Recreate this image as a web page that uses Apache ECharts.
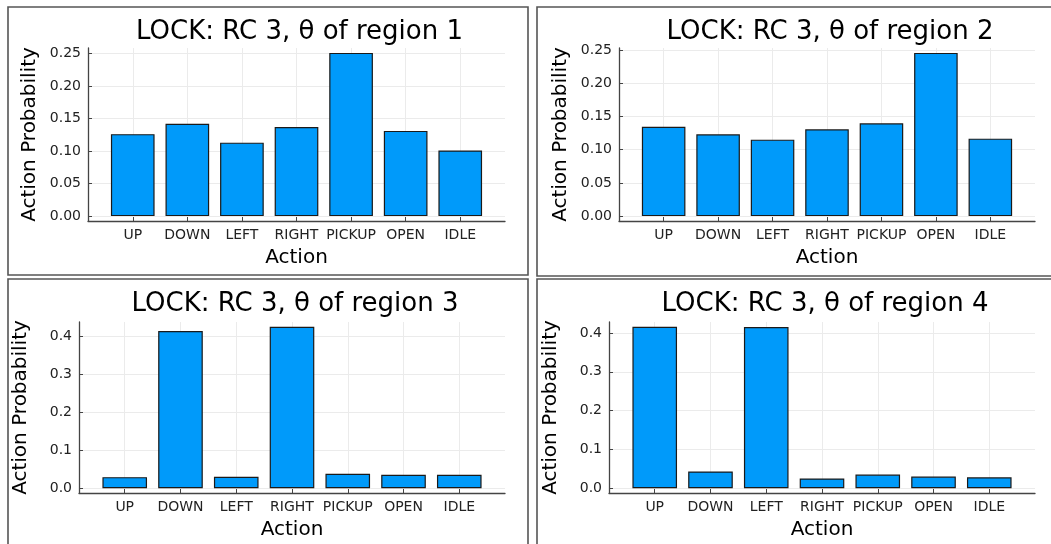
<!DOCTYPE html>
<html>
<head>
<meta charset="utf-8">
<script src="https://cdn.jsdelivr.net/npm/echarts@6/dist/echarts.min.js"></script>
<style>
  html, body { margin: 0; padding: 0; background: #ffffff; }
  #chart { width: 1051px; height: 544px; }
</style>
</head>
<body>
<div id="chart"></div>
<script>
// Categories and action probabilities for each region
const actions = ['UP', 'DOWN', 'LEFT', 'RIGHT', 'PICKUP', 'OPEN', 'IDLE'];
const region1 = [0.126, 0.142, 0.113, 0.137, 0.251, 0.131, 0.101];
const region2 = [0.1345, 0.123, 0.115, 0.1305, 0.1395, 0.2455, 0.1165];
const region3 = [0.029, 0.413, 0.030, 0.424, 0.038, 0.035, 0.035];
const region4 = [0.416, 0.043, 0.4155, 0.025, 0.035, 0.030, 0.028];
const ticksFine = [0, 0.05, 0.10, 0.15, 0.20, 0.25];
const ticksCoarse = [0, 0.1, 0.2, 0.3, 0.4];
const titles = [
  'LOCK: RC 3, θ of region 1',
  'LOCK: RC 3, θ of region 2',
  'LOCK: RC 3, θ of region 3',
  'LOCK: RC 3, θ of region 4'
];

const FONT = 'DejaVu Sans';
const BLUE = '#009AFA';

// Plot area and frame for each of the four subplots
const panels = [
  { data: region1, ticks: ticksFine, digits: 2, grid: { left: 88, top: 48, width: 417, height: 173 }, box: [8, 7, 520, 268] },
  { data: region2, ticks: ticksFine, digits: 2, grid: { left: 619, top: 48, width: 416, height: 173 }, box: [537, 7, 530, 269] },
  { data: region3, ticks: ticksCoarse, digits: 1, grid: { left: 79, top: 322, width: 426, height: 171 }, box: [8, 279, 520, 280] },
  { data: region4, ticks: ticksCoarse, digits: 1, grid: { left: 609, top: 322, width: 426, height: 171 }, box: [537, 279, 530, 280] }
];

const X_MIN = -0.82, X_MAX = 6.82;
const catIdx = actions.map((_, i) => i);

const option = {
  animation: false,
  backgroundColor: '#ffffff',
  title: [],
  grid: [],
  xAxis: [],
  yAxis: [],
  series: [],
  graphic: []
};

panels.forEach((p, k) => {
  const g = p.grid;
  const maxV = Math.max(...p.data);
  option.grid.push({ left: g.left, top: g.top, width: g.width, height: g.height, containLabel: false });

  option.title.push({
    text: titles[k],
    left: g.left + g.width / 2 - 2,
    top: p.box[1] + 7,
    textAlign: 'center',
    textStyle: { fontFamily: FONT, fontSize: 26, fontWeight: 'normal', color: '#000' }
  });

  option.xAxis.push({
    gridIndex: k,
    type: 'value',
    min: X_MIN,
    max: X_MAX,
    name: 'Action',
    nameLocation: 'middle',
    nameGap: 27,
    nameTextStyle: { fontFamily: FONT, fontSize: 20, color: '#000' },
    axisLine: { show: true, onZero: false, lineStyle: { color: '#444', width: 1.3 } },
    axisTick: { show: true, inside: true, length: 4, customValues: catIdx, lineStyle: { color: '#444' } },
    axisLabel: {
      customValues: catIdx,
      formatter: v => actions[Math.round(v)],
      fontFamily: FONT, fontSize: 14, color: '#222', margin: 7
    },
    splitLine: { show: true, lineStyle: { color: '#ebebeb', width: 1 } }
  });

  option.yAxis.push({
    gridIndex: k,
    type: 'value',
    min: -0.03 * maxV,
    max: 1.03 * maxV,
    name: 'Action Probability',
    nameLocation: 'middle',
    nameGap: 48,
    nameTextStyle: { fontFamily: FONT, fontSize: 20, color: '#000' },
    axisLine: { show: true, onZero: false, lineStyle: { color: '#444', width: 1.3 } },
    axisTick: { show: true, inside: true, length: 4, customValues: p.ticks, lineStyle: { color: '#444' } },
    axisLabel: {
      customValues: p.ticks,
      formatter: v => v.toFixed(p.digits),
      fontFamily: FONT, fontSize: 14, color: '#222', margin: 7
    },
    splitLine: { show: true, lineStyle: { color: '#ebebeb', width: 1 } }
  });

  option.series.push({
    type: 'bar',
    xAxisIndex: k,
    yAxisIndex: k,
    data: p.data.map((v, i) => [i, v]),
    barWidth: g.width / (X_MAX - X_MIN) * 0.8,
    itemStyle: { color: BLUE, borderColor: '#1a1a1a', borderWidth: 1.2 }
  });

  option.graphic.push({
    type: 'rect',
    shape: { x: p.box[0], y: p.box[1], width: p.box[2], height: p.box[3] },
    style: { fill: 'none', stroke: '#555', lineWidth: 1.6 },
    silent: true,
    z: 100
  });
});

const chart = echarts.init(document.getElementById('chart'), null, { renderer: 'canvas' });
chart.setOption(option);
</script>
</body>
</html>
